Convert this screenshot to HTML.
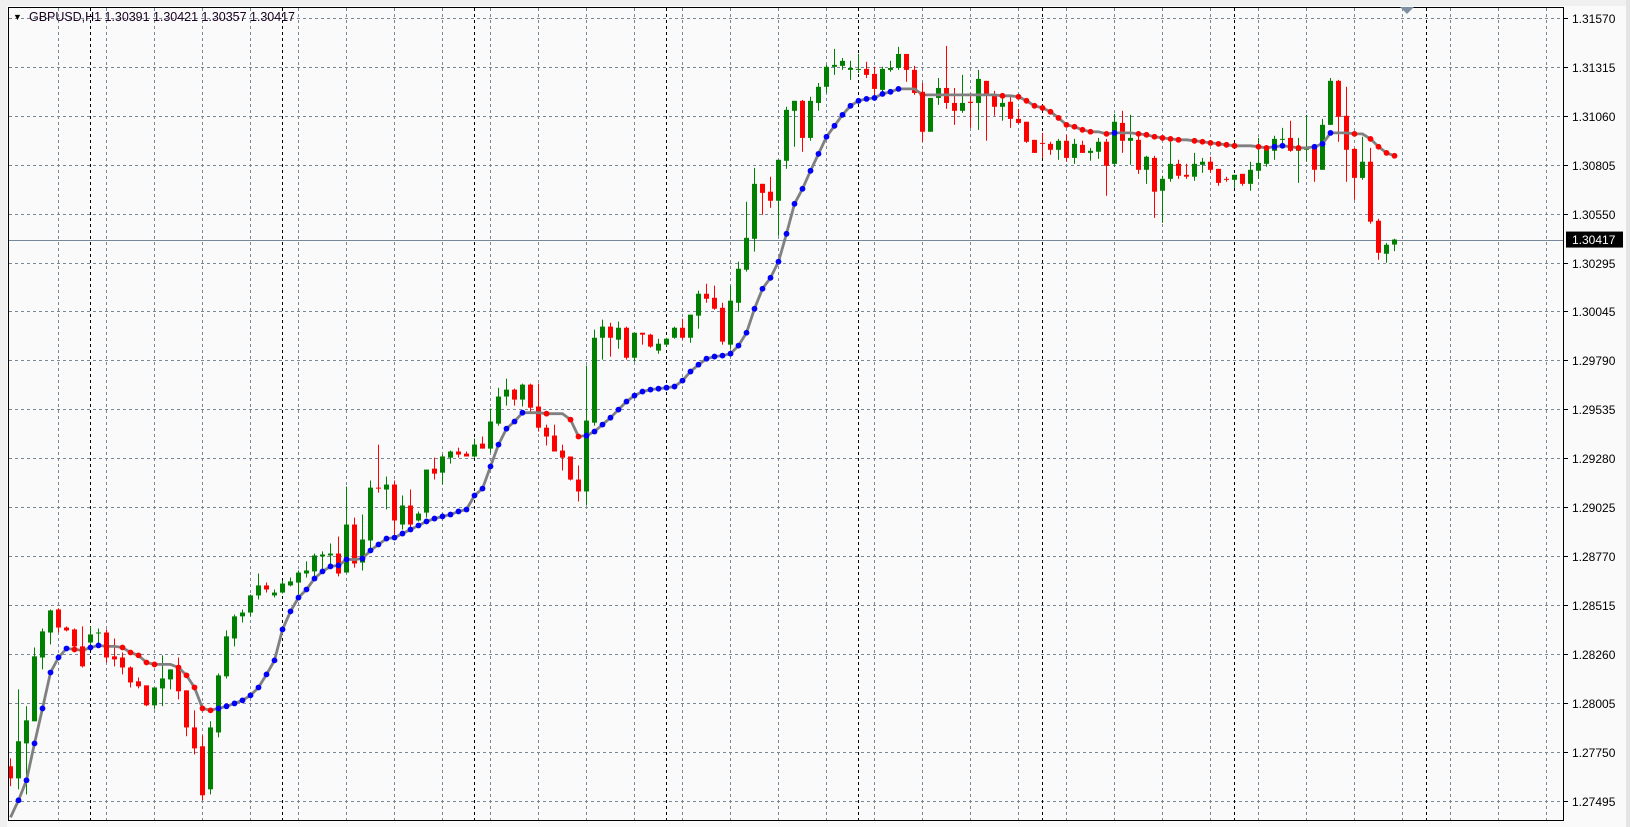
<!DOCTYPE html>
<html><head><meta charset="utf-8"><title>GBPUSD,H1</title>
<style>
html,body{margin:0;padding:0;background:#f0f0f0;}
#wrap{position:relative;width:1630px;height:827px;overflow:hidden;background:#fafafa;font-family:"Liberation Sans",sans-serif;}
svg{position:absolute;left:0;top:0;}
</style></head>
<body>
<div id="wrap">
<svg id="chart" width="1630" height="827" viewBox="0 0 1630 827">
  <rect x="0" y="0" width="1630" height="6" fill="#f0f0f0"/>
  <rect x="0" y="0" width="7" height="827" fill="#f0f0f0"/>
  <rect x="1626" y="0" width="4" height="827" fill="#e4e4e4"/>
  <rect x="8" y="7" width="1556" height="814" fill="#fafafa"/>
  <g id="grid"></g>
  <g id="seps"></g>
  <line x1="8" x2="1564" y1="240.5" y2="240.5" stroke="#778899" stroke-width="1"/>
  <g id="candles"></g>
  <g id="ma"></g>
  <rect x="8.5" y="7.5" width="1555" height="813" fill="none" stroke="#000" stroke-width="1"/>
  <g id="yaxis"></g>
  <polygon points="1400,7 1414,7 1407,14" fill="#7f8fa0"/>
  <text x="13" y="20" font-size="9" fill="#000">▼</text>
  <text x="29" y="21" font-size="12.5" fill="#1a0020" textLength="266" lengthAdjust="spacing">GBPUSD,H1  1.30391 1.30421 1.30357 1.30417</text>
</svg>
</div>
<script>
// Prices in points above 1.00000 (e.g. 27717 = 1.27717)
const opens = [27676,27613,27795,27910,28242,28372,28492,28398,28388,28300,28320,28367,28372,28248,28242,28190,28118,28097,27993,28081,28128,28196,28071,27878,27780,27556,27852,28144,28341,28456,28476,28565,28617,28565,28580,28617,28632,28679,28690,28768,28773,28783,28684,28934,28736,28851,29126,29116,29142,28934,29033,28955,28996,29225,29204,29282,29314,29303,29288,29355,29329,29459,29600,29636,29584,29662,29548,29438,29397,29319,29288,29168,29106,29464,29906,29964,29896,29958,29802,29932,29922,29839,29870,29906,29958,29906,30021,30135,30114,30062,29870,30088,30260,30421,30707,30666,30619,30827,31087,31139,30946,31128,31212,31316,31321,31300,31300,31305,31279,31196,31300,31310,31383,31300,31186,30978,31154,31206,31128,31087,31134,31128,31243,31170,31108,31134,31045,31030,30936,30920,30915,30884,30931,30842,30910,30868,30874,30926,30811,31024,30931,30936,30780,30842,30671,30733,30811,30754,30744,30806,30822,30785,30733,30728,30759,30707,30775,30811,30879,30936,30946,30879,30884,30894,30780,31014,31243,31061,30889,30738,30822,30515,30343,30391];
const highs = [27717,28076,27988,28294,28393,28492,28497,28404,28393,28404,28404,28393,28388,28341,28268,28196,28138,28097,28086,28253,28180,28242,28071,27967,27837,27910,28159,28383,28466,28492,28570,28679,28632,28596,28643,28658,28695,28742,28783,28794,28835,28872,29132,28970,28986,29163,29350,29184,29163,29085,29116,29002,29220,29282,29298,29319,29334,29314,29381,29392,29537,29646,29693,29641,29667,29667,29667,29454,29454,29350,29288,29241,29761,29948,30000,29984,29990,29964,29932,29932,29927,29901,29906,29964,30005,30026,30151,30187,30177,30088,30177,30302,30614,30790,30707,30744,30832,31108,31139,31144,31160,31232,31326,31409,31362,31347,31383,31342,31316,31316,31347,31420,31383,31321,31232,31154,31258,31425,31206,31274,31180,31300,31243,31191,31160,31170,31097,31030,30936,30972,30926,30941,30962,30941,30931,30894,30946,30941,31071,31087,31066,30978,30853,30853,30749,30926,30832,30811,30868,30842,30848,30785,30744,30754,30759,30822,30946,30905,30957,30998,31035,30946,31066,30905,31045,31258,31248,31212,30894,30952,30894,30525,30400,30421];
const lows = [27572,27556,27530,27910,28180,28310,28372,28378,28294,28190,28300,28310,28216,28196,28154,28086,28081,27988,27972,27988,28076,28024,27832,27738,27499,27530,27826,28133,28300,28424,28456,28544,28580,28554,28575,28612,28570,28658,28664,28705,28716,28664,28684,28710,28695,28799,29100,29012,28872,28908,28918,28950,28970,29168,29142,29251,29282,29288,29282,29329,29308,29449,29553,29553,29548,29516,29418,29345,29314,29215,29163,29054,29033,29449,29792,29808,29849,29792,29782,29870,29854,29823,29860,29901,29896,29880,29953,30088,30052,29870,29844,30042,30250,30354,30546,30582,30437,30785,30900,30874,30931,31087,31180,31274,31300,31248,31284,31258,31165,31170,31290,31300,31238,31170,30926,30978,31118,31097,31014,31076,30998,30988,30931,31061,31035,30998,31019,30920,30868,30842,30858,30832,30822,30811,30868,30827,30837,30645,30796,30868,30806,30759,30707,30530,30504,30718,30733,30733,30723,30764,30764,30697,30718,30686,30697,30671,30733,30796,30832,30910,30874,30712,30822,30718,30780,31014,30926,30718,30624,30728,30499,30312,30296,30357];
const closes = [27613,27806,27915,28248,28378,28487,28398,28383,28300,28196,28362,28372,28242,28232,28190,28112,28092,27993,28086,28133,28180,28066,27878,27769,27525,27878,28149,28352,28456,28476,28565,28617,28596,28580,28627,28638,28684,28695,28773,28778,28783,28679,28934,28731,28856,29126,29121,29142,28955,29033,28934,28991,29220,29199,29288,29314,29298,29288,29350,29329,29470,29600,29636,29584,29662,29542,29438,29392,29314,29282,29168,29106,29475,29906,29964,29906,29958,29802,29932,29922,29860,29875,29901,29958,29906,30026,30135,30109,30057,29886,30099,30265,30426,30707,30660,30619,30832,31092,31139,30946,31139,31212,31316,31326,31347,31310,31305,31274,31201,31305,31310,31383,31300,31180,30978,31154,31206,31128,31087,31128,31128,31253,31170,31108,31128,31045,31024,30926,30868,30915,30884,30931,30842,30915,30868,30879,30926,30801,31030,30931,30946,30780,30848,30666,30733,30811,30749,30744,30811,30822,30780,30712,30728,30754,30707,30780,30816,30884,30941,30941,30879,30894,30894,30780,31014,31243,31056,30884,30738,30822,30510,30348,30390,30417];
const maValues = [27410,27499,27603,27795,27977,28164,28242,28289,28284,28279,28294,28305,28300,28300,28294,28268,28253,28216,28206,28206,28206,28190,28149,28086,27977,27967,27977,27988,28003,28019,28045,28086,28154,28227,28388,28482,28554,28596,28653,28690,28716,28721,28752,28752,28757,28799,28830,28861,28866,28887,28908,28929,28950,28965,28976,28986,29002,29012,29085,29121,29236,29350,29433,29470,29516,29516,29516,29511,29511,29511,29480,29392,29397,29418,29454,29490,29532,29574,29605,29626,29636,29641,29646,29652,29683,29730,29766,29797,29808,29813,29823,29865,29932,30057,30161,30218,30302,30447,30603,30681,30775,30863,30952,31009,31066,31113,31139,31149,31154,31175,31186,31201,31201,31201,31170,31170,31170,31170,31170,31170,31170,31170,31170,31170,31165,31165,31160,31139,31113,31102,31082,31050,31014,31004,30988,30978,30978,30967,30972,30972,30972,30967,30962,30952,30946,30941,30936,30936,30931,30926,30920,30915,30910,30905,30905,30905,30900,30894,30900,30905,30900,30894,30894,30900,30915,30972,30972,30972,30967,30967,30941,30900,30868,30853];
const priceTicks = ["1.31570","1.31315","1.31060","1.30805","1.30550","1.30295","1.30045","1.29790","1.29535","1.29280","1.29025","1.28770","1.28515","1.28260","1.28005","1.27750","1.27495"];
const daySeparatorBars = [10,34,58,82,106,129,153,177];
const currentPrice = 30417;

const NS = "http://www.w3.org/2000/svg";
const TOP_PRICE = 31570, TOP_Y = 18, PTS_PER_STEP = 255, PX_PER_STEP = 49;
function yScale(p){ return TOP_Y + (TOP_PRICE - p) / PTS_PER_STEP * PX_PER_STEP; }
function xScale(i){ return 10.5 + 8 * i; }
function mk(tag, attrs, parent){ const e = document.createElementNS(NS, tag); for (const k in attrs) e.setAttribute(k, attrs[k]); parent.appendChild(e); return e; }

const grid = document.getElementById('grid');
priceTicks.forEach(function(t, k){
  const y = Math.round(yScale(Math.round(parseFloat(t) * 100000) - 100000)) + 0.5;
  const l = mk('line', {x1: 9, x2: 1563, y1: y, y2: y, stroke: '#778899', 'stroke-width': 1, 'stroke-dasharray': '3,3'}, grid);
  
  
});
for (let i = 6; xScale(i) < 1563; i += 6){
  const x = Math.round(xScale(i)) - 0.5;
  const l = mk('line', {x1: x, x2: x, y1: 8, y2: 820, stroke: '#778899', 'stroke-width': 1, 'stroke-dasharray': '3,3'}, grid);
  
  
}
const seps = document.getElementById('seps');
daySeparatorBars.forEach(function(i){
  const x = Math.round(xScale(i)) - 0.5;
  const l = mk('line', {x1: x, x2: x, y1: 8, y2: 820, stroke: '#000', 'stroke-width': 1, 'stroke-dasharray': '3,3'}, seps);
  
  
});

const cg = document.getElementById('candles');
for (let i = 0; i < opens.length; i++){
  const o = opens[i], h = highs[i], l = lows[i], c = closes[i];
  const col = c >= o ? '#008000' : '#ff0000';
  const x = Math.round(xScale(i)) - 0.5;
  const g = mk('g', {}, cg);
  
  
  mk('line', {x1: x, x2: x, y1: yScale(h), y2: yScale(l), stroke: col, 'stroke-width': 1}, g);
  const yt = yScale(Math.max(o, c)), yb = yScale(Math.min(o, c));
  mk('rect', {x: x - 2.5, y: yt, width: 5, height: Math.max(1, yb - yt), fill: col}, g);
}

const mg = document.getElementById('ma');
let pts = maValues.map(function(v, i){ return xScale(i) + ',' + yScale(v).toFixed(1); }).join(' ');
const pl = mk('polyline', {points: pts, fill: 'none', stroke: '#808080', 'stroke-width': 2.8, 'stroke-linejoin': 'round'}, mg);


for (let i = 1; i < maValues.length; i++){
  const d = maValues[i] - maValues[i-1];
  if (Math.abs(d) < 3) continue;
  const dot = mk('circle', {cx: xScale(i), cy: yScale(maValues[i]), r: 2.9, fill: d > 0 ? '#0000ff' : '#ff0000'}, mg);
  
  
}

const ya = document.getElementById('yaxis');
priceTicks.forEach(function(t){
  const y = Math.round(yScale(Math.round(parseFloat(t) * 100000) - 100000)) + 0.5;
  mk('line', {x1: 1564, x2: 1568, y1: y, y2: y, stroke: '#000', 'stroke-width': 1}, ya);
  const tx = mk('text', {x: 1572, y: y + 4.5, 'font-size': 12, fill: '#000'}, ya);
  tx.textContent = t;
  
  
});
const cy = yScale(currentPrice);
const tag = mk('rect', {x: 1566, y: cy - 8, width: 57, height: 16, fill: '#000'}, ya);


const tagText = mk('text', {x: 1572, y: cy + 4.5, 'font-size': 12, fill: '#fff'}, ya);
tagText.textContent = (1 + currentPrice / 100000).toFixed(5);


</script>
</body></html>
